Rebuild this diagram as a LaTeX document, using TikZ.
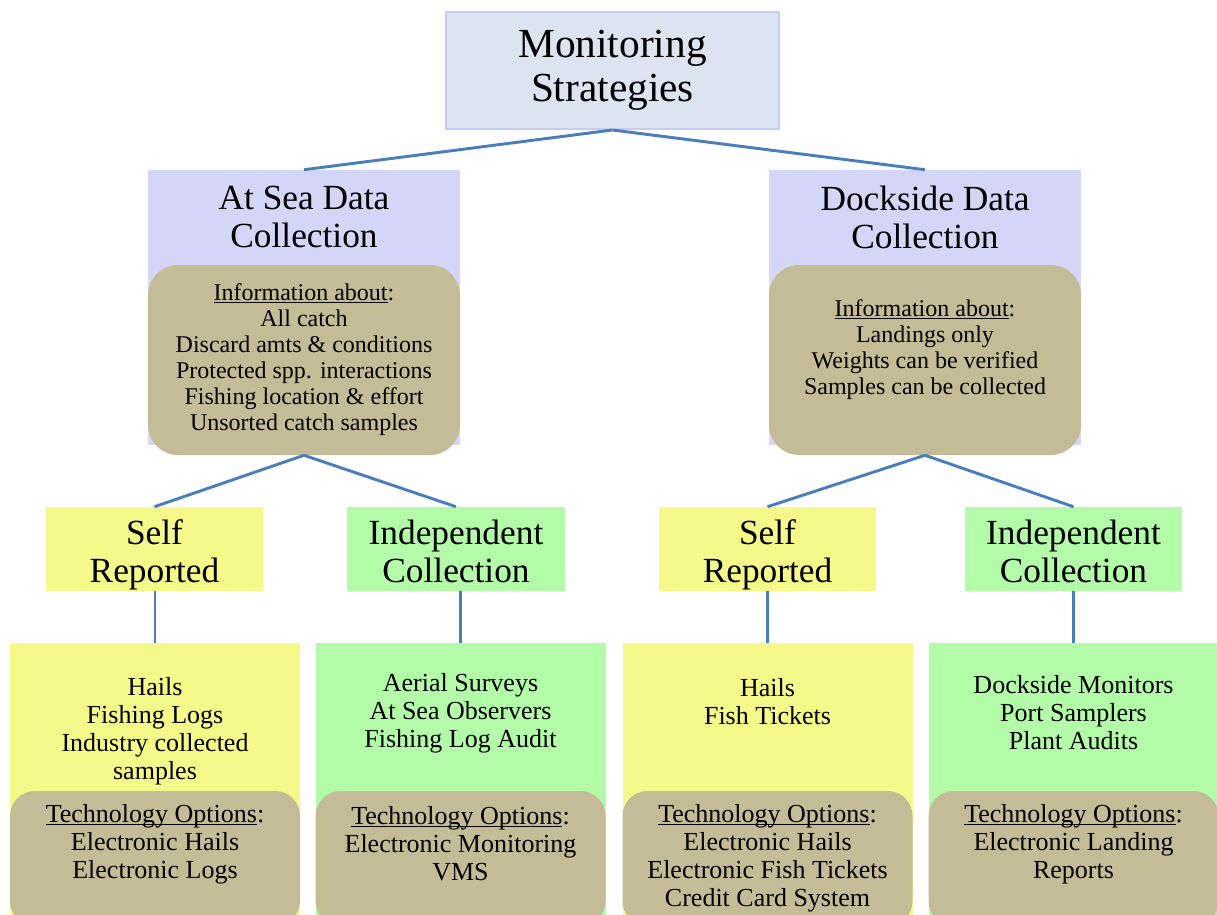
\documentclass[tikz,border=0pt]{standalone}
\usepackage{fontspec}
\setmainfont{Liberation Serif}

\definecolor{topfill}{HTML}{DCE4F2}
\definecolor{topedge}{HTML}{C6CCF4}
\definecolor{lavender}{HTML}{D4D6F7}
\definecolor{tan}{HTML}{C4BC97}
\definecolor{selfyellow}{HTML}{F4F98A}
\definecolor{indepgreen}{HTML}{B3FBA8}
\definecolor{linkblue}{HTML}{4A7EBB}

\newcommand{\headfont}{\fontsize{31}{33}\selectfont}
\newcommand{\groupfont}{\fontsize{26.5}{28.5}\selectfont}
\newcommand{\infofont}{\fontsize{18}{19.5}\selectfont}
\newcommand{\listfont}{\fontsize{19.5}{21}\selectfont}
\newcommand{\infoline}[1]{\setbox0\hbox{#1}\rlap{\rule[-1.6pt]{\wd0}{0.6pt}}\box0}

\begin{document}
\begin{tikzpicture}[x=0.75pt,y=-0.75pt]

	\tikzstyle link lines=[draw=linkblue, line width=2.2pt];
	\tikzstyle plain box=[rectangle, inner sep=0pt, align=center];
	\tikzstyle info box=[plain box, fill=tan, rounded corners=22.5pt];
	\tikzstyle tech box=[plain box, fill=tan, rounded corners=18.75pt, minimum width=217.5pt, minimum height=101.25pt];

	\useasboundingbox (0,0) rectangle (1217,914);

	% top
	\node[plain box, fill=topfill, draw=topedge, line width=1.5pt, minimum width=249.75pt, minimum height=87.75pt, font=\headfont] (strat) at (612.5,70.5) {Monitoring\\Strategies};

	% at sea / dockside
	\node[plain box, fill=lavender, minimum width=234pt, minimum height=206.25pt] (seabox) at (304,307.5) {};
	\node[plain box, font=\groupfont] (seatitle) at (304,217) {At Sea Data\\Collection};
	\node[info box, minimum width=234pt, minimum height=142.5pt, font=\infofont] (seainfo) at (304,360)
		{\infoline{Information about}:\\All catch\\Discard amts \& conditions\\Protected spp. interactions\\Fishing location \& effort\\Unsorted catch samples};

	\node[plain box, fill=lavender, minimum width=234pt, minimum height=206.25pt] (dockbox) at (925,307.5) {};
	\node[plain box, font=\groupfont] (docktitle) at (925,217) {Dockside Data\\Collection};
	\node[info box, minimum width=234pt, minimum height=142.5pt] (dockinfo) at (925,360) {};
	\node[plain box, font=\infofont] (docktext) at (925,350)
		{\infoline{Information about}:\\Landings only\\Weights can be verified\\Samples can be collected};

	% self reported / independent
	\foreach \name/\x/\col/\ty/\txt in {self1/154.5/selfyellow/555/{Self\\Reported}, indep1/456/indepgreen/551/{Independent\\Collection},
			self2/767.5/selfyellow/555/{Self\\Reported}, indep2/1073.5/indepgreen/551/{Independent\\Collection}}
		{
		\node[plain box, fill=\col, minimum width=163pt, minimum height=63pt] (\name) at (\x,549) {};
		\node[plain box, font=\groupfont] (\name text) at (\x,\ty) {\txt};
		}

	% lists
	\foreach \name/\x/\col in {list1/155/selfyellow, list2/460.5/indepgreen, list3/767.5/selfyellow, list4/1073.5/indepgreen}
		\node[plain box, fill=\col, minimum width=217.5pt, minimum height=206.25pt] (\name) at (\x,780.5) {};

	\node[plain box, font=\listfont] (list1text) at (155,731) {Hails\\Fishing Logs\\Industry collected\\samples};
	\node[plain box, font=\listfont] (list2text) at (460.5,713) {Aerial Surveys\\At Sea Observers\\Fishing Log Audit};
	\node[plain box, font=\listfont] (list3text) at (767.5,702) {Hails\\Fish Tickets};
	\node[plain box, font=\listfont] (list4text) at (1073.5,713) {Dockside Monitors\\Port Samplers\\Plant Audits};

	% technology options
	\node[tech box] (tech1) at (155,858.5) {};
	\node[tech box] (tech2) at (460.5,858.5) {};
	\node[tech box] (tech3) at (767.5,858.5) {};
	\node[tech box] (tech4) at (1073.5,858.5) {};

	\node[plain box, font=\listfont] (tech1text) at (155,844) {\infoline{Technology Options}:\\Electronic Hails\\Electronic Logs};
	\node[plain box, font=\listfont] (tech2text) at (460.5,844) {\infoline{Technology Options}:\\Electronic Monitoring\\VMS};
	\node[plain box, font=\listfont] (tech3text) at (767.5,858) {\infoline{Technology Options}:\\Electronic Hails\\Electronic Fish Tickets\\Credit Card System};
	\node[plain box, font=\listfont] (tech4text) at (1073.5,844) {\infoline{Technology Options}:\\Electronic Landing\\Reports};

	% links
	\draw[link lines] (strat.south) -- (seabox.north);
	\draw[link lines] (strat.south) -- (dockbox.north);
	\draw[link lines] (seainfo.south) -- (self1.north);
	\draw[link lines] (seainfo.south) -- (indep1.north);
	\draw[link lines] (dockinfo.south) -- (self2.north);
	\draw[link lines] (dockinfo.south) -- (indep2.north);
	\foreach \a/\b in {self1/list1, indep1/list2, self2/list3, indep2/list4}
		\draw[link lines] (\b.north |- \a.south) -- (\b.north);

\end{tikzpicture}
\end{document}
